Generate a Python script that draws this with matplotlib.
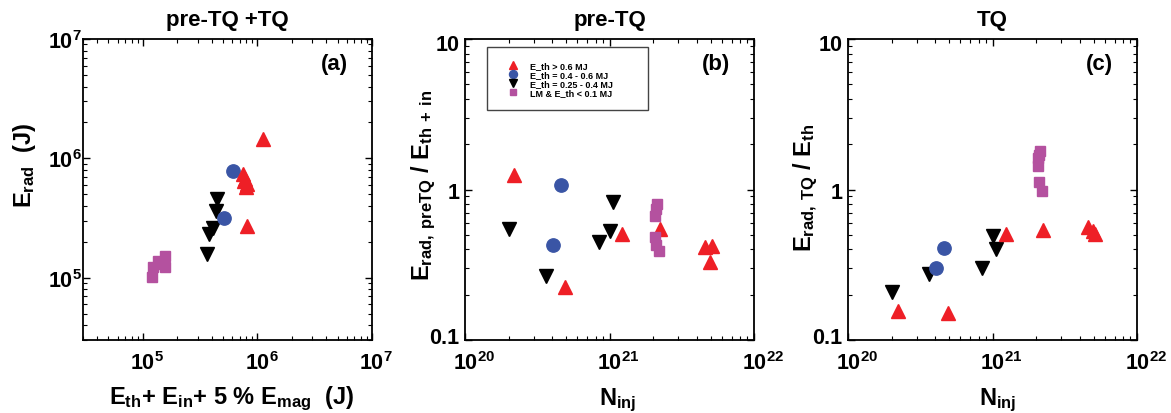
import matplotlib.pyplot as plt
from matplotlib.ticker import NullFormatter, FixedLocator, FixedFormatter
from matplotlib.transforms import ScaledTranslation

plt.rcParams['font.family'] = ['Liberation Sans', 'DejaVu Sans']
plt.rcParams['font.weight'] = 'bold'
plt.rcParams['axes.labelweight'] = 'bold'
plt.rcParams['mathtext.default'] = 'regular'

# ---------- data ----------
group_labels = ["E_th > 0.6 MJ", "E_th = 0.4 - 0.6 MJ",
                "E_th = 0.25 - 0.4 MJ", "LM & E_th < 0.1 MJ"]

# (a) total radiated energy vs available energy (J)
a_red_x = [1.12e6, 7.48e5, 7.79e5, 8.12e5, 7.96e5, 8.12e5, 7.6e5]
a_red_y = [1.45e6, 7.38e5, 6.71e5, 6.10e5, 5.74e5, 2.71e5, 6.5e5]
a_blue_x = [6.12e5, 5.11e5]
a_blue_y = [7.83e5, 3.16e5]
a_black_x = [4.44e5, 4.35e5, 4.09e5, 3.78e5, 3.63e5]
a_black_y = [4.56e5, 3.62e5, 2.61e5, 2.32e5, 1.58e5]
a_mag_x = [1.19e5, 1.23e5, 1.36e5, 1.56e5, 1.56e5, 1.41e5]
a_mag_y = [1.01e5, 1.22e5, 1.39e5, 1.53e5, 1.22e5, 1.30e5]

# injected quantity per shot
n_red = [2.2e20, 4.9e20, 1.23e21, 2.25e21, 4.6e21, 5.1e21, 4.95e21]
n_blue = [4.65e20, 4.05e20]
n_black = [2.03e20, 3.65e20, 8.5e20, 1.01e21, 1.05e21]
n_mag = [2.12e21, 2.10e21, 2.06e21, 2.07e21, 2.10e21, 2.19e21]

# (b) pre-TQ radiated fraction
b_red = [1.25, 0.224, 0.506, 0.547, 0.413, 0.424, 0.328]
b_blue = [1.07, 0.43]
b_black = [0.547, 0.267, 0.446, 0.532, 0.830]
b_mag = [0.80, 0.74, 0.67, 0.48, 0.43, 0.39]

# (c) TQ radiated fraction
c_red = [0.157, 0.151, 0.506, 0.538, 0.561, 0.506, 0.53]
c_blue = [0.41, 0.30]
c_black = [0.207, 0.275, 0.299, 0.489, 0.402]
c_mag = [1.81, 1.70, 1.62, 1.44, 1.12, 0.98]

styles = [
    dict(marker='^', color='#EE1F26', ms=10.5, zorder=4),
    dict(marker='o', color='#3A55A5', ms=9.6, zorder=3),
    dict(marker='v', color='black', ms=10.5, zorder=2),
    dict(marker='s', color='#B4519F', ms=7.7, zorder=5),
]


def scatter_groups(ax, xs, ys):
    for x, y, st, lab in zip(xs, ys, styles, group_labels):
        ax.plot(x, y, linestyle='none', marker=st['marker'], color=st['color'],
                mec=st['color'], ms=st['ms'], zorder=st['zorder'], label=lab)


def style_axes(ax):
    ax.set_xscale('log')
    ax.set_yscale('log')
    ax.tick_params(which='both', direction='in', top=True, right=True,
                   labelsize=15.5)
    ax.tick_params(which='major', length=5, width=1)
    ax.tick_params(which='minor', length=3, width=0.8)
    ax.xaxis.set_minor_formatter(NullFormatter())
    ax.yaxis.set_minor_formatter(NullFormatter())
    for s in ax.spines.values():
        s.set_linewidth(1.3)


def nudge(labels, dx_px=0.0, dy_px=0.0):
    # shift tick labels by a few pixels
    off = ScaledTranslation(dx_px / 100.0, dy_px / 100.0, fig.dpi_scale_trans)
    for lab in labels:
        lab.set_transform(lab.get_transform() + off)


fig = plt.figure(figsize=(11.71, 4.14), dpi=100)
ax_a = fig.add_axes([0.0709, 0.1763, 0.2468, 0.727])
ax_b = fig.add_axes([0.3971, 0.1763, 0.2468, 0.727])
ax_c = fig.add_axes([0.7242, 0.1763, 0.2468, 0.727])

# ---------- (a) ----------
scatter_groups(ax_a, [a_red_x, a_blue_x, a_black_x, a_mag_x],
               [a_red_y, a_blue_y, a_black_y, a_mag_y])
style_axes(ax_a)
ax_a.set_xlim(3e4, 1e7)
ax_a.set_ylim(3e4, 1e7)
ax_a.xaxis.set_major_locator(FixedLocator([1e5, 1e6, 1e7]))
ax_a.yaxis.set_major_locator(FixedLocator([1e5, 1e6, 1e7]))
ax_a.tick_params(axis='y', pad=1)
ax_a.tick_params(axis='x', pad=8)
ax_a.set_title('pre-TQ +TQ', fontsize=16, fontweight='bold', pad=10)
ax_a.set_xlabel('E$_{th}$+ E$_{in}$+ 5 % E$_{mag}$  (J)', fontsize=17)
ax_a.set_ylabel('E$_{rad}$  (J)', fontsize=17)
ax_a.xaxis.set_label_coords(0.515, -0.146)
ax_a.yaxis.set_label_coords(-0.156, 0.585)
ax_a.text(0.87, 0.92, '(a)', transform=ax_a.transAxes, fontsize=16,
          ha='center', va='center')

# ---------- (b) and (c) ----------
for ax, xs, ys in [
    (ax_b, [n_red, n_blue, n_black, n_mag], [b_red, b_blue, b_black, b_mag]),
    (ax_c, [n_red, n_blue, n_black, n_mag], [c_red, c_blue, c_black, c_mag]),
]:
    scatter_groups(ax, xs, ys)
    style_axes(ax)
    ax.set_xlim(1e20, 1e22)
    ax.set_ylim(0.1, 10)
    ax.xaxis.set_major_locator(FixedLocator([1e20, 1e21, 1e22]))
    ax.yaxis.set_major_locator(FixedLocator([0.1, 1, 10]))
    ax.yaxis.set_major_formatter(FixedFormatter(['0.1', '1', '10']))
    ax.tick_params(axis='y', pad=4)
    ax.tick_params(axis='x', pad=8)
    ax.set_xlabel('N$_{inj}$', fontsize=17)

ax_b.set_title('pre-TQ', fontsize=16, fontweight='bold', pad=10)
ax_b.set_ylabel('E$_{rad,\\,preTQ}$ / E$_{th\\,+\\,in}$', fontsize=17)
ax_b.xaxis.set_label_coords(0.53, -0.153)
ax_b.yaxis.set_label_coords(-0.093, 0.518)
ax_b.text(0.87, 0.92, '(b)', transform=ax_b.transAxes, fontsize=16,
          ha='center', va='center')
leg = ax_b.legend(loc='upper left', bbox_to_anchor=(0.076, 0.0, 0.557, 0.973),
                  mode='expand', fontsize=6.5, markerscale=0.6, frameon=True,
                  fancybox=False, edgecolor='#444444', framealpha=1,
                  borderpad=1.5, labelspacing=0.0, handlelength=2.8,
                  handletextpad=0.5, borderaxespad=0)
leg.get_frame().set_linewidth(1.0)

ax_c.set_title('TQ', fontsize=16, fontweight='bold', pad=10)
ax_c.set_ylabel('E$_{rad,\\,TQ}$ / E$_{th}$', fontsize=17)
ax_c.xaxis.set_label_coords(0.517, -0.15)
ax_c.yaxis.set_label_coords(-0.097, 0.508)
ax_c.text(0.87, 0.92, '(c)', transform=ax_c.transAxes, fontsize=16,
          ha='center', va='center')

# exponent hangs to the right of the tick, base "10" sits on it
fig.canvas.draw()
nudge(ax_a.get_xticklabels(), dx_px=4)
for ax in (ax_b, ax_c):
    nudge(ax.get_xticklabels(), dx_px=9)
    ylabs = ax.get_yticklabels()
    nudge(ylabs[:1], dy_px=5)
    nudge(ylabs[-1:], dy_px=-3)

fig.savefig('out.png', dpi=100)
